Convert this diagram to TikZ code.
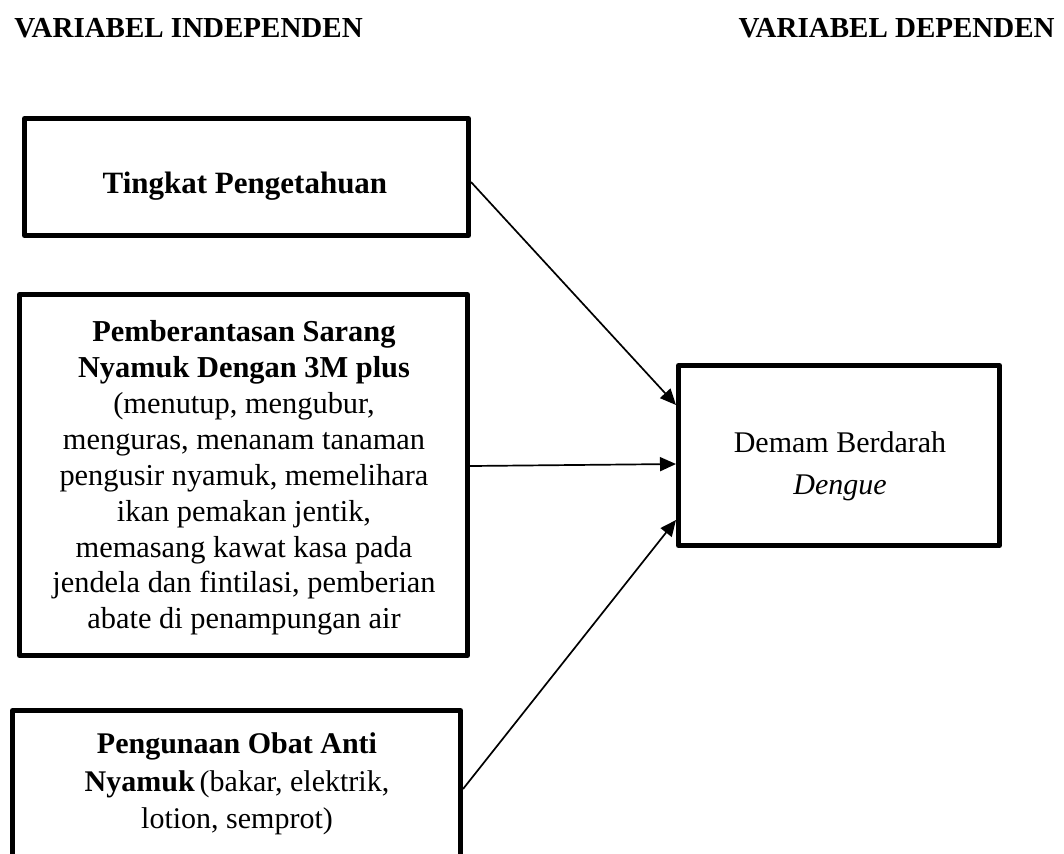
\documentclass[tikz,border=0pt]{standalone}
\usepackage{fontspec}
\setmainfont{Liberation Serif}
\usetikzlibrary{arrows.meta}
\begin{document}
\begin{tikzpicture}[x=0.5pt,y=-0.5pt,
  box/.style={draw=black, line width=2.5pt, line join=round, rectangle, inner sep=0pt},
  lbl/.style={inner sep=0pt, align=center},
  arr/.style={line width=0.85pt, -{Triangle[length=8pt,width=7pt]}},
  title/.style={inner sep=0pt, font=\fontsize{14.5}{17}\selectfont\bfseries}]
\useasboundingbox (0,0) rectangle (1064,853);
\clip (0,0) rectangle (1064,853);
% titles
\node[title, anchor=base west] (h1) at (14,37) {VARIABEL INDEPENDEN};
\node[title, anchor=base east] (h2) at (1055,37) {VARIABEL DEPENDEN};
% boxes
\node[box, minimum width=222pt, minimum height=58.5pt] (b1) at (246.5,177) {};
\node[box, minimum width=224pt, minimum height=180.5pt] (b2) at (243.5,475) {};
\node[box, minimum width=224pt, minimum height=78.5pt] (b3) at (236.5,789) {};
\node[box, minimum width=160.5pt, minimum height=90pt] (b4) at (839,455.5) {};
% texts
\node[lbl, font={\fontsize{15.5}{18}\selectfont\bfseries}, anchor=base] (t1) at (245,193) {Tingkat Pengetahuan};
\node[lbl, font={\fontsize{15.2}{17.95}\selectfont}] (t2) at (244,478)
  {\textbf{Pemberantasan Sarang}\\ \textbf{Nyamuk Dengan 3M plus}\\ (menutup, mengubur,\\ menguras, menanam tanaman\\ pengusir nyamuk, memelihara\\ ikan pemakan jentik,\\ memasang kawat kasa pada\\ jendela dan fintilasi, pemberian\\ abate di penampungan air};
\node[lbl, font={\fontsize{15}{18.75}\selectfont}] (t3) at (237,784)
  {\textbf{Pengunaan Obat Anti}\\ \textbf{Nyamuk}\,(bakar, elektrik,\\ lotion, semprot)};
\node[lbl, font={\fontsize{15}{21}\selectfont}] (t4) at (840,466)
  {Demam Berdarah\\ \textit{Dengue}};
% arrows
\draw[arr] ([yshift=-2.5pt]b1.east) -- ([yshift=25.25pt]b4.west);
\draw[arr] ([yshift=4.5pt]b2.east) -- ([yshift=-4.25pt]b4.west);
\draw[arr] (b3.east) -- ([yshift=-32.25pt]b4.west);
\end{tikzpicture}
\end{document}
